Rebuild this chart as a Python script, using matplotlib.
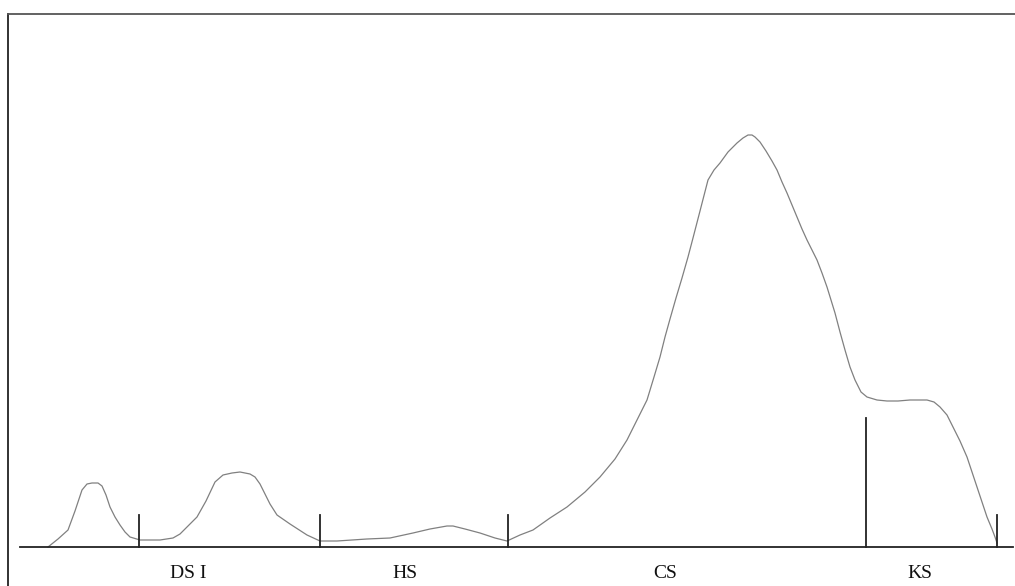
import matplotlib.pyplot as plt

# curve (x position, height above baseline)
curve_x = [48, 58, 68, 75, 82, 87, 92, 98, 102, 106, 110, 115, 120, 125, 130, 140, 150, 160,
           173, 180, 188, 197, 206, 215, 223, 232, 240, 250, 255, 260, 265, 270, 277, 290,
           307, 320, 337, 367, 390, 413, 430, 447, 453, 465, 480, 495, 507, 520, 533, 550,
           567, 585, 600, 615, 627, 637, 647, 654, 660, 665, 670, 676, 682, 688, 693, 700,
           708, 714, 720, 728, 737, 743, 748, 752, 755, 760, 766, 772, 777, 782, 787, 792,
           797, 802, 807, 812, 817, 822, 827, 831, 835, 840, 845, 850, 855, 861, 867, 877,
           887, 898, 910, 920, 927, 934, 940, 947, 953, 960, 967, 972, 977, 982, 987, 992,
           995, 997]
curve_y = [0, 8, 17, 36, 57, 63, 64, 64, 61, 52, 40, 30, 22, 15, 10, 7, 7, 7,
           9, 13, 21, 30, 46, 65, 72, 74, 75, 73, 70, 63, 53, 43, 32, 23,
           12, 6, 6, 8, 9, 14, 18, 21, 21, 18, 14, 9, 6, 12, 17, 29,
           40, 55, 70, 88, 107, 127, 147, 170, 190, 210, 228, 249, 269, 290, 309, 336,
           367, 377, 384, 395, 404, 409, 412, 412, 410, 405, 396, 386, 377, 365, 354, 342,
           330, 318, 307, 297, 287, 274, 260, 247, 234, 215, 197, 180, 167, 155, 150, 147,
           146, 146, 147, 147, 147, 145, 140, 132, 120, 106, 90, 75, 60, 45, 30, 18,
           10, 4]

# segment boundary ticks
tick_x = [139, 320, 508, 866, 997]
tick_h = [32, 32, 32, 129, 32]

labels = ["DS I", "HS", "CS", "KS"]
label_x = [188, 405, 665, 920]

fig = plt.figure(figsize=(10.15, 5.86), dpi=100)
ax = fig.add_axes([8 / 1015, 0, 1007 / 1015, 572 / 586])
ax.set_xlim(8, 1015)
ax.set_ylim(-39, 533)

ax.plot(curve_x, curve_y, color='#808080', lw=0.9)
ax.plot([20, 1013], [0, 0], color='#222222', lw=1.3)
for tx, th in zip(tick_x, tick_h):
    ax.plot([tx, tx], [0, th], color='#222222', lw=1.3)

for lx, lab in zip(label_x, labels):
    ax.text(lx, -27, lab, ha='center', va='center', fontsize=14,
            family='Liberation Serif', color='#111111')

ax.set_xticks([])
ax.set_yticks([])
ax.spines['bottom'].set_visible(False)
ax.spines['right'].set_visible(False)
ax.spines['left'].set_color('#222222')
ax.spines['top'].set_color('#555555')
ax.spines['left'].set_linewidth(1.3)
ax.spines['top'].set_linewidth(1.3)

fig.savefig('out.png', dpi=100)
